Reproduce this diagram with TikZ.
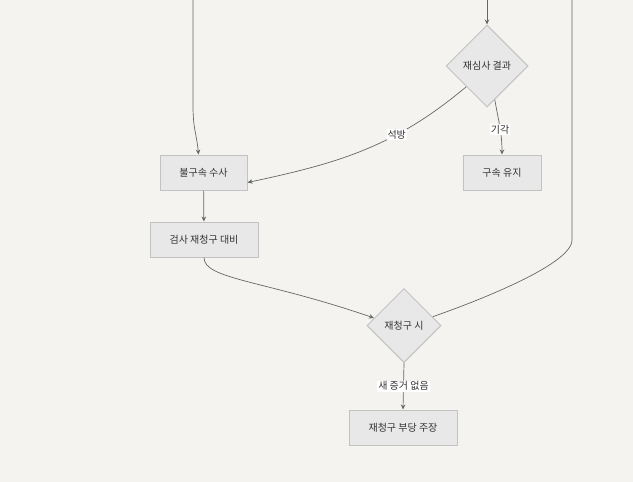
\documentclass[tikz,border=0pt]{standalone}
\usepackage{fontspec}
\newfontfamily\krfont{Noto Sans CJK KR}
\usetikzlibrary{arrows.meta,positioning,shapes.geometric}
\definecolor{bgcol}{HTML}{F4F3EF}
\definecolor{nodefill}{HTML}{E8E8E8}
\definecolor{nodeline}{HTML}{C2C2C2}
\definecolor{edgecol}{HTML}{666666}
\definecolor{txtcol}{HTML}{333333}

\begin{document}
\begin{tikzpicture}[x=1pt,y=-1pt,
	font=\krfont\fontsize{10}{12}\selectfont,
	box/.style={draw=nodeline, fill=nodefill, line width=1pt, minimum height=35pt, inner sep=0pt, text=txtcol},
	decision/.style={diamond, aspect=1, draw=nodeline, fill=nodefill, line width=1pt, inner sep=0pt, text=txtcol},
	arr/.style={draw=edgecol, line width=0.7pt, -{Stealth[length=5pt,width=4.5pt]}},
	link/.style={draw=edgecol, line width=0.7pt},
	lbl/.style={fill=white, inner sep=1pt, text=txtcol}]
	
	% Canvas
	\fill[bgcol] (0,0) rectangle (633,482);
	\useasboundingbox (0,0) rectangle (633,482);
	
	% Incoming edges from above
	\coordinate (fromA) at (193,0);
	\coordinate (fromB) at (487,0);
	\coordinate (fromC) at (572,0);
	
	% Nodes
	\node[decision, minimum size=82pt] (review) at (487,66) {재심사 결과};
	\node[box, minimum width=78pt] (keep) at (502,172.5) {구속 유지};
	\node[box, minimum width=87pt] (release) at (203.5,172.5) {불구속 수사};
	\node[box, minimum width=108pt] (prep) at (204,239.5) {검사 재청구 대비};
	\node[decision, minimum size=74pt] (rereq) at (404,325.5) {재청구 시};
	\node[box, minimum width=108pt] (claim) at (403,427.5) {재청구 부당 주장};
	
	% Edges
	\draw[arr] (fromA) -- ++(0,105) .. controls +(0,25) and +(-2,-22) .. ([xshift=-5pt]release.north);
	\draw[arr] (fromB) -- (review.north);
	\draw[arr] (review.south west) to[out=-140,in=12] node[lbl, pos=0.34] {석방} ([yshift=-10pt]release.east);
	\draw[arr] (review.-77) to[out=-80,in=90] node[lbl, pos=0.55] {기각} (keep.north);
	\draw[arr] (release) -- (prep);
	\draw[arr] (prep.south) .. controls +(0,22) and +(-110,-38) .. (rereq.166);
	\draw[link] (fromC) -- ++(0,240) .. controls +(0,25) and +(40,-14) .. (rereq.17);
	\draw[arr] (rereq.south) -- node[lbl] {새 증거 없음} (claim.north);
\end{tikzpicture}
\end{document}
